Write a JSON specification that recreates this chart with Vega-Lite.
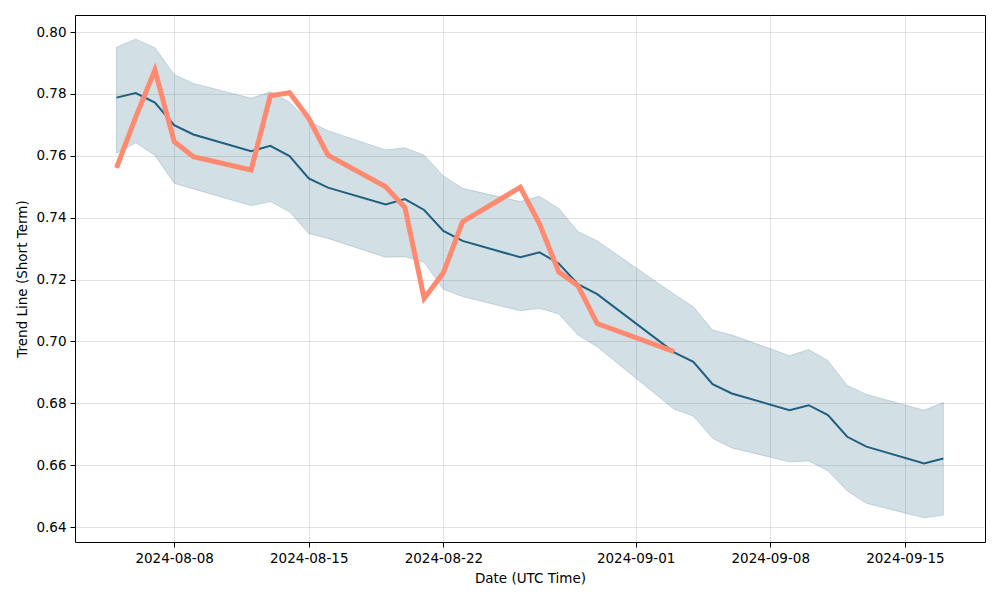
{
  "$schema": "https://vega.github.io/schema/vega-lite/v6.json",
  "width": 910,
  "height": 527,
  "autosize": {"type": "none"},
  "padding": {"left": 75, "top": 15, "right": 15, "bottom": 58},
  "background": "white",
  "config": {
    "view": {"stroke": "black", "strokeWidth": 1},
    "font": "DejaVu Sans",
    "axis": {
      "domain": false,
      "tickColor": "black",
      "tickSize": 5,
      "tickWidth": 1,
      "labelColor": "black",
      "labelFontSize": 13.5,
      "labelFont": "DejaVu Sans",
      "labelPadding": 4,
      "titleFont": "DejaVu Sans",
      "titleFontSize": 13.5,
      "titleFontWeight": "normal",
      "titleColor": "black",
      "gridColor": "#b0b0b0",
      "gridOpacity": 0.35,
      "gridWidth": 1
    }
  },
  "data": {
    "values": [
      {"date": "2024-08-05", "trend": 0.7788, "lower": 0.7608, "upper": 0.7951, "price": 0.7561},
      {"date": "2024-08-06", "trend": 0.7803, "lower": 0.7642, "upper": 0.7977, "price": 0.7725},
      {"date": "2024-08-07", "trend": 0.7772, "lower": 0.7602, "upper": 0.7949, "price": 0.7877},
      {"date": "2024-08-08", "trend": 0.7699, "lower": 0.7511, "upper": 0.7863, "price": 0.7646},
      {"date": "2024-08-09", "trend": 0.7669, "lower": 0.7493, "upper": 0.7834, "price": 0.7597},
      {"date": "2024-08-12", "trend": 0.7615, "lower": 0.7439, "upper": 0.7786, "price": 0.7554},
      {"date": "2024-08-13", "trend": 0.7632, "lower": 0.7452, "upper": 0.7807, "price": 0.7794},
      {"date": "2024-08-14", "trend": 0.7599, "lower": 0.7419, "upper": 0.7773, "price": 0.7804},
      {"date": "2024-08-15", "trend": 0.7527, "lower": 0.7349, "upper": 0.7712, "price": 0.7721},
      {"date": "2024-08-16", "trend": 0.7497, "lower": 0.7333, "upper": 0.7681, "price": 0.7602},
      {"date": "2024-08-19", "trend": 0.7443, "lower": 0.7272, "upper": 0.7619, "price": 0.7500},
      {"date": "2024-08-20", "trend": 0.7460, "lower": 0.7274, "upper": 0.7626, "price": 0.7433},
      {"date": "2024-08-21", "trend": 0.7425, "lower": 0.7256, "upper": 0.7602, "price": 0.7139},
      {"date": "2024-08-22", "trend": 0.7357, "lower": 0.7169, "upper": 0.7535, "price": 0.7222},
      {"date": "2024-08-23", "trend": 0.7325, "lower": 0.7145, "upper": 0.7495, "price": 0.7387},
      {"date": "2024-08-26", "trend": 0.7272, "lower": 0.7099, "upper": 0.7452, "price": 0.7498},
      {"date": "2024-08-27", "trend": 0.7288, "lower": 0.7107, "upper": 0.7469, "price": 0.7380},
      {"date": "2024-08-28", "trend": 0.7252, "lower": 0.7089, "upper": 0.7430, "price": 0.7225},
      {"date": "2024-08-29", "trend": 0.7185, "lower": 0.7021, "upper": 0.7355, "price": 0.7180},
      {"date": "2024-08-30", "trend": 0.7153, "lower": 0.6983, "upper": 0.7325, "price": 0.7058},
      {"date": "2024-09-03", "trend": 0.6965, "lower": 0.6781, "upper": 0.7153, "price": 0.6967},
      {"date": "2024-09-04", "trend": 0.6934, "lower": 0.6759, "upper": 0.7112, "price": null},
      {"date": "2024-09-05", "trend": 0.6862, "lower": 0.6687, "upper": 0.7037, "price": null},
      {"date": "2024-09-06", "trend": 0.6832, "lower": 0.6656, "upper": 0.7021, "price": null},
      {"date": "2024-09-09", "trend": 0.6778, "lower": 0.6611, "upper": 0.6954, "price": null},
      {"date": "2024-09-10", "trend": 0.6794, "lower": 0.6614, "upper": 0.6974, "price": null},
      {"date": "2024-09-11", "trend": 0.6762, "lower": 0.6582, "upper": 0.6938, "price": null},
      {"date": "2024-09-12", "trend": 0.6692, "lower": 0.6517, "upper": 0.6858, "price": null},
      {"date": "2024-09-13", "trend": 0.6660, "lower": 0.6477, "upper": 0.6829, "price": null},
      {"date": "2024-09-16", "trend": 0.6606, "lower": 0.6430, "upper": 0.6778, "price": null},
      {"date": "2024-09-17", "trend": 0.6622, "lower": 0.6439, "upper": 0.6803, "price": null}
    ]
  },
  "encoding": {
    "x": {
      "field": "date",
      "type": "temporal",
      "title": "Date (UTC Time)",
      "scale": {
        "type": "utc",
        "domain": [
          {"year": 2024, "month": 8, "date": 2, "hours": 20, "minutes": 15, "utc": true},
          {"year": 2024, "month": 9, "date": 19, "hours": 4, "utc": true}
        ]
      },
      "axis": {
        "format": "%Y-%m-%d",
        "values": [
          {"year": 2024, "month": 8, "date": 8, "utc": true},
          {"year": 2024, "month": 8, "date": 15, "utc": true},
          {"year": 2024, "month": 8, "date": 22, "utc": true},
          {"year": 2024, "month": 9, "date": 1, "utc": true},
          {"year": 2024, "month": 9, "date": 8, "utc": true},
          {"year": 2024, "month": 9, "date": 15, "utc": true}
        ],
        "titlePadding": 7
      }
    }
  },
  "layer": [
    {
      "mark": {"type": "area", "color": "#1f5f7f", "fillOpacity": 0.2, "stroke": "#1f5f7f", "strokeOpacity": 0.2, "strokeWidth": 1},
      "encoding": {
        "y": {
          "field": "lower",
          "type": "quantitative",
          "title": "Trend Line (Short Term)",
          "scale": {"domain": [0.6352, 0.8055], "nice": false, "zero": false},
          "axis": {"values": [0.64, 0.66, 0.68, 0.70, 0.72, 0.74, 0.76, 0.78, 0.80], "format": ".2f", "titlePadding": 6}
        },
        "y2": {"field": "upper"}
      }
    },
    {
      "mark": {"type": "line", "color": "#1f5f7f", "strokeWidth": 2},
      "encoding": {
        "y": {"field": "trend", "type": "quantitative"}
      }
    },
    {
      "transform": [{"filter": "datum.price != null"}],
      "mark": {"type": "line", "color": "#ff8a70", "strokeWidth": 5},
      "encoding": {
        "y": {"field": "price", "type": "quantitative"}
      }
    }
  ]
}
